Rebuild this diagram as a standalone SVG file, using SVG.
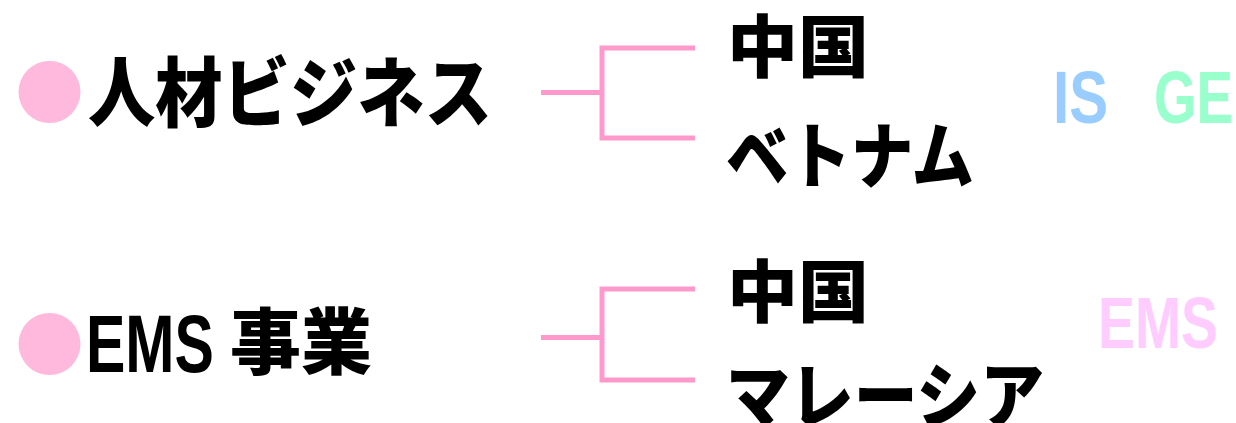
<svg xmlns="http://www.w3.org/2000/svg" width="1236" height="423" viewBox="0 0 1236 423">
<style>
.jp{font-family:"Noto Sans CJK JP","Noto Sans CJK SC",sans-serif;font-weight:900;fill:#000}
.lat{font-family:"Liberation Sans",Arial,sans-serif;font-weight:bold}
.dot{fill:#FFB9DD}
.conn{fill:none;stroke:#FF99CC;stroke-width:5}
</style>
<rect width="1236" height="423" fill="#fff"/>
<g id="jinzai">
<circle class="dot" cx="49.5" cy="92" r="31"/>
<text class="jp" x="88" y="121" font-size="76" textLength="404" lengthAdjust="spacingAndGlyphs">人材ビジネス</text>
</g>
<g id="ems">
<circle class="dot" cx="49.5" cy="344" r="31"/>
<text class="lat" transform="translate(86 372) scale(0.72 1)" font-size="82" fill="#000">EMS</text>
<text class="jp" x="230" y="368" font-size="72" textLength="142" lengthAdjust="spacingAndGlyphs">事業</text>
</g>
<g id="china1"><text class="jp" x="727" y="72" font-size="68" textLength="142" lengthAdjust="spacingAndGlyphs">中国</text></g>
<g id="vietnam"><text class="jp" x="726" y="182" font-size="72" textLength="248" lengthAdjust="spacingAndGlyphs">ベトナム</text></g>
<g id="china2"><text class="jp" x="727" y="317" font-size="68" textLength="142" lengthAdjust="spacingAndGlyphs">中国</text></g>
<g id="malaysia"><text class="jp" x="726" y="422" font-size="72" textLength="318" lengthAdjust="spacingAndGlyphs">マレーシア</text></g>
<g id="is"><text class="lat" x="1053" y="123" font-size="75" fill="#99CCFF" textLength="55" lengthAdjust="spacingAndGlyphs">IS</text></g>
<g id="ge"><text class="lat" x="1154" y="123" font-size="75" fill="#99FFCC" textLength="79" lengthAdjust="spacingAndGlyphs">GE</text></g>
<g id="ems-label"><text class="lat" x="1098" y="348" font-size="73" fill="#FFCCFF" textLength="120" lengthAdjust="spacingAndGlyphs">EMS</text></g>
<g id="connectors">
<path class="conn" d="M541 92.5H602M695 48H602V138H695"/>
<path class="conn" d="M541 337.5H602M695 289H602V380H695"/>
</g>
</svg>
